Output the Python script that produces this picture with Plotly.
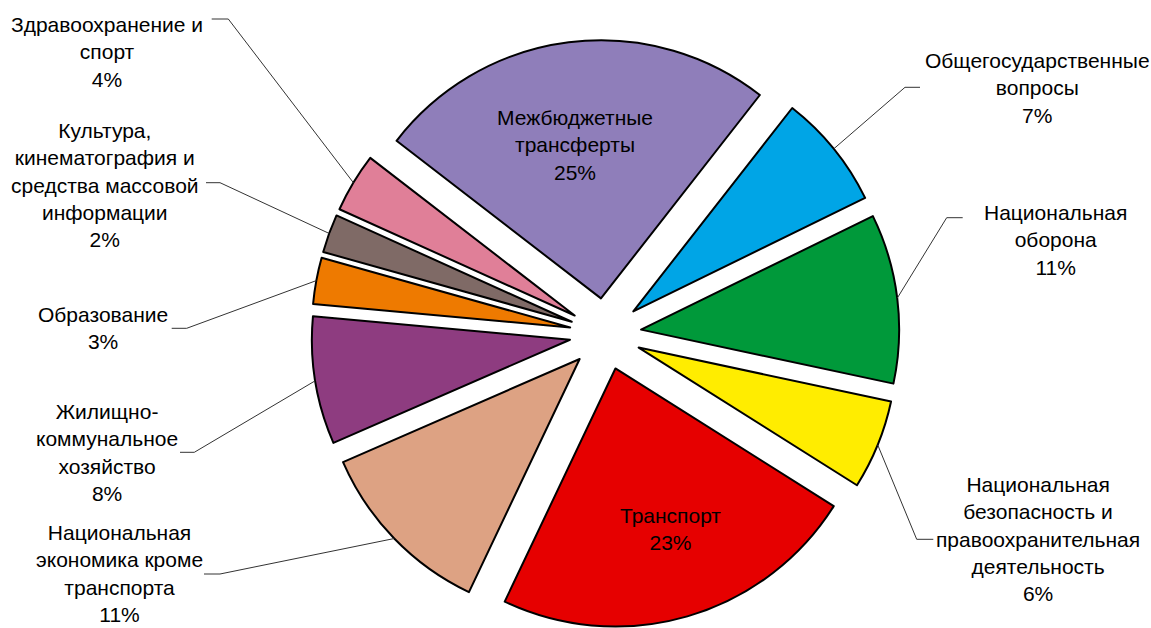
import math
import plotly.graph_objects as go

# ---------------- data ----------------
categories = [
    "Общегосударственные<br>вопросы",
    "Национальная<br>оборона",
    "Национальная<br>безопасность и<br>правоохранительная<br>деятельность",
    "Транспорт",
    "Национальная<br>экономика кроме<br>транспорта",
    "Жилищно-<br>коммунальное<br>хозяйство",
    "Образование",
    "Культура,<br>кинематография и<br>средства массовой<br>информации",
    "Здравоохранение и<br>спорт",
    "Межбюджетные<br>трансферты",
]
shares = [7.2, 10.6, 5.6, 23.1, 11.4, 8.0, 2.9, 2.4, 3.7, 25.1]
colors = ["#00A5E6", "#00993A", "#FFED00", "#E60000", "#DDA283",
          "#8E3C80", "#EE7A00", "#7F6A66", "#E07F98", "#8F7EBA"]
label_inside = [False, False, False, True, False, False, False, False, False, True]

# ---------------- layout constants ----------------
W, H = 1151, 628
M_T = 40
PLOT_W, PLOT_H = W, H - M_T
DOM_X = [0.226, 0.826]
DOM_Y = [0.0, 1.0]
PULL = 0.139
ROT = 38
FONT = "Arial, Liberation Sans, sans-serif"
FSIZE = 21

# label placement (pixels): text centre, and for outside labels line end + elbow
label_pos = {
    0: dict(text=(1037, 87.5), end=(920, 87.3), elbow=(905, 87.3)),
    1: dict(text=(1055, 239.5), end=(962.7, 217.7), elbow=(946.7, 217.7)),
    2: dict(text=(1038, 539), end=(933.3, 539.3), elbow=(916.7, 539.3)),
    3: dict(text=(670, 528.5)),
    4: dict(text=(119, 573), end=(204, 574), elbow=(220, 574)),
    5: dict(text=(106.5, 452.5), end=(180, 452.3), elbow=(194.3, 452.3)),
    6: dict(text=(103, 327.5), end=(171.7, 328.3), elbow=(186.7, 328.3)),
    7: dict(text=(105, 185), end=(206, 182.7), elbow=(220, 182.7)),
    8: dict(text=(106.7, 51.5), end=(211.7, 19), elbow=(228.3, 19)),
    9: dict(text=(575.3, 145)),
}


def px2paper(x, y):
    return x / PLOT_W, 1 - (y - M_T) / PLOT_H


# pie geometry as plotly computes it
cx = PLOT_W * (DOM_X[0] + DOM_X[1]) / 2
cy = M_T + PLOT_H * (2 - DOM_Y[0] - DOM_Y[1]) / 2
R = min(PLOT_W * (DOM_X[1] - DOM_X[0]) / 2, PLOT_H * (DOM_Y[1] - DOM_Y[0]) / 2) / (1 + PULL)

total = sum(shares)
fig = go.Figure(go.Pie(
    labels=[c.replace("<br>", " ") for c in categories],
    values=shares,
    sort=False,
    direction="clockwise",
    rotation=ROT,
    pull=[PULL] * len(shares),
    marker=dict(colors=colors, line=dict(color="black", width=2)),
    textinfo="none",
    domain=dict(x=DOM_X, y=DOM_Y),
    hovertemplate="%{label}: %{percent:.0%}<extra></extra>",
))

annotations = []
shapes = []
cum = 0.0
for i, v in enumerate(shares):
    mid = math.radians(ROT + 360 * (cum + v / 2) / total)
    cum += v
    ux, uy = math.sin(mid), -math.cos(mid)
    pct = f"{round(v / total * 100)}%"
    txt = f"{categories[i]}<br>{pct}"
    lp = label_pos[i]
    tx, ty = px2paper(*lp["text"])
    if not label_inside[i]:
        d = (1 + PULL) * R
        ax_, ay_ = px2paper(cx + d * ux, cy + d * uy)
        ex, ey = px2paper(*lp["elbow"])
        nx, ny = px2paper(*lp["end"])
        shapes.append(dict(type="path", xref="paper", yref="paper",
                           path=f"M {ax_},{ay_} L {ex},{ey} L {nx},{ny}",
                           line=dict(color="#333333", width=1)))
    annotations.append(dict(x=tx, y=ty, xref="paper", yref="paper", text=txt,
                            showarrow=False, xanchor="center", yanchor="middle",
                            align="center", font=dict(family=FONT, size=FSIZE, color="black")))

fig.update_layout(
    width=W, height=H,
    margin=dict(l=0, r=0, t=M_T, b=0),
    paper_bgcolor="white", plot_bgcolor="white",
    showlegend=False,
    annotations=annotations,
    shapes=shapes,
    font=dict(family=FONT),
)

fig.write_html("out.html")
